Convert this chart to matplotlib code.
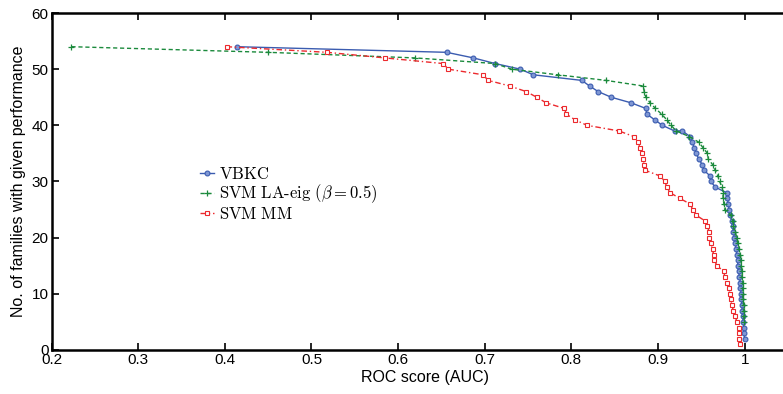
import matplotlib
matplotlib.use("Agg")
import matplotlib.pyplot as plt

# number of families (y) reaching each ROC score (x)
vbkc_x = [0.414, 0.656, 0.687, 0.712, 0.741, 0.756, 0.812, 0.821, 0.831, 0.846,
          0.869, 0.886, 0.887, 0.896, 0.905, 0.919, 0.928, 0.937, 0.939, 0.942,
          0.944, 0.947, 0.951, 0.953, 0.960, 0.961, 0.966, 0.979, 0.980, 0.981,
          0.982, 0.983, 0.985, 0.986, 0.987, 0.988, 0.989, 0.990, 0.991, 0.992,
          0.992, 0.993, 0.994, 0.995, 0.995, 0.996, 0.996, 0.997, 0.997, 0.998,
          0.998, 0.999, 0.999, 1.000]
vbkc_y = [54, 53, 52, 51, 50, 49, 48, 47, 46, 45,
          44, 43, 42, 41, 40, 39, 39, 38, 37, 36,
          35, 34, 33, 32, 31, 30, 29, 28, 27, 26,
          25, 24, 23, 22, 21, 20, 19, 18, 17, 16,
          15, 14, 13, 12, 11, 10, 9, 8, 7, 6,
          5, 4, 3, 2]

svmla_x = [0.223, 0.450, 0.620, 0.712, 0.731, 0.784, 0.840, 0.883, 0.884, 0.886,
           0.891, 0.897, 0.904, 0.910, 0.915, 0.921, 0.936, 0.947, 0.952, 0.957,
           0.958, 0.963, 0.966, 0.969, 0.971, 0.974, 0.975, 0.975, 0.976, 0.977,
           0.984, 0.986, 0.987, 0.989, 0.991, 0.992, 0.994, 0.995, 0.996, 0.996,
           0.997, 0.997, 0.998, 0.998, 0.998, 0.998, 0.999, 0.999, 0.999, 0.999]
svmla_y = list(range(54, 4, -1))

svmmm_x = [0.402, 0.518, 0.585, 0.652, 0.658, 0.698, 0.704, 0.729, 0.748, 0.760,
           0.771, 0.792, 0.794, 0.804, 0.818, 0.855, 0.872, 0.877, 0.879, 0.881,
           0.883, 0.884, 0.885, 0.902, 0.908, 0.910, 0.914, 0.925, 0.937, 0.940,
           0.944, 0.954, 0.957, 0.959, 0.959, 0.961, 0.963, 0.964, 0.965, 0.968,
           0.976, 0.977, 0.979, 0.982, 0.983, 0.984, 0.985, 0.987, 0.989, 0.991,
           0.994, 0.994, 0.994, 0.995]
svmmm_y = list(range(54, 0, -1))

labels = [r"$\mathrm{VBKC}$", r"$\mathrm{SVM\ LA\text{-}eig}\ (\beta = 0.5)$", r"$\mathrm{SVM\ MM}$"]

plt.rcParams["font.family"] = ["Liberation Sans", "DejaVu Sans"]
plt.rcParams["mathtext.fontset"] = "cm"

fig = plt.figure(figsize=(7.83, 3.94), dpi=100)
ax = fig.add_axes([0.0658, 0.1117, 0.955, 0.8553])

blue = "#3b5cb0"
green = "#1b8a3c"
red = "#ec2a2e"

ax.plot(vbkc_x, vbkc_y, "-", color=blue, lw=1.0, marker="o", ms=3.5,
        mfc="#7f97d4", mec=blue, mew=0.8, label=labels[0])
ax.plot(svmla_x, svmla_y, "--", color=green, lw=1.0, marker="+", ms=4,
        mew=0.9, label=labels[1], dashes=(3, 2))
ax.plot(svmmm_x, svmmm_y, "-.", color=red, lw=1.0, marker="s", ms=3.2,
        mfc="white", mec=red, mew=0.8, label=labels[2], dashes=(4, 2, 1, 2))

ax.set_xlim(0.2, 1.063)
ax.set_ylim(0, 60)
ax.set_xticks([0.2, 0.3, 0.4, 0.5, 0.6, 0.7, 0.8, 0.9, 1.0])
ax.set_xticklabels(["0.2", "0.3", "0.4", "0.5", "0.6", "0.7", "0.8", "0.9", "1"])
ax.set_yticks(range(0, 61, 10))
ax.tick_params(direction="in", length=5, width=1.2, labelsize=11, top=True, right=True,
               pad=2)
for s in ax.spines.values():
    s.set_linewidth(1.8)

ax.set_xlabel("ROC score (AUC)", fontsize=11.5, labelpad=2)
ax.set_ylabel("No. of families with given performance", fontsize=11.5, labelpad=4)

ax.legend(loc="upper left", bbox_to_anchor=(0.19, 0.565), frameon=False,
          handlelength=0.8, handletextpad=0.3, labelspacing=0.02, borderaxespad=0,
          prop={"size": 12})

fig.savefig("out.png", dpi=100)
